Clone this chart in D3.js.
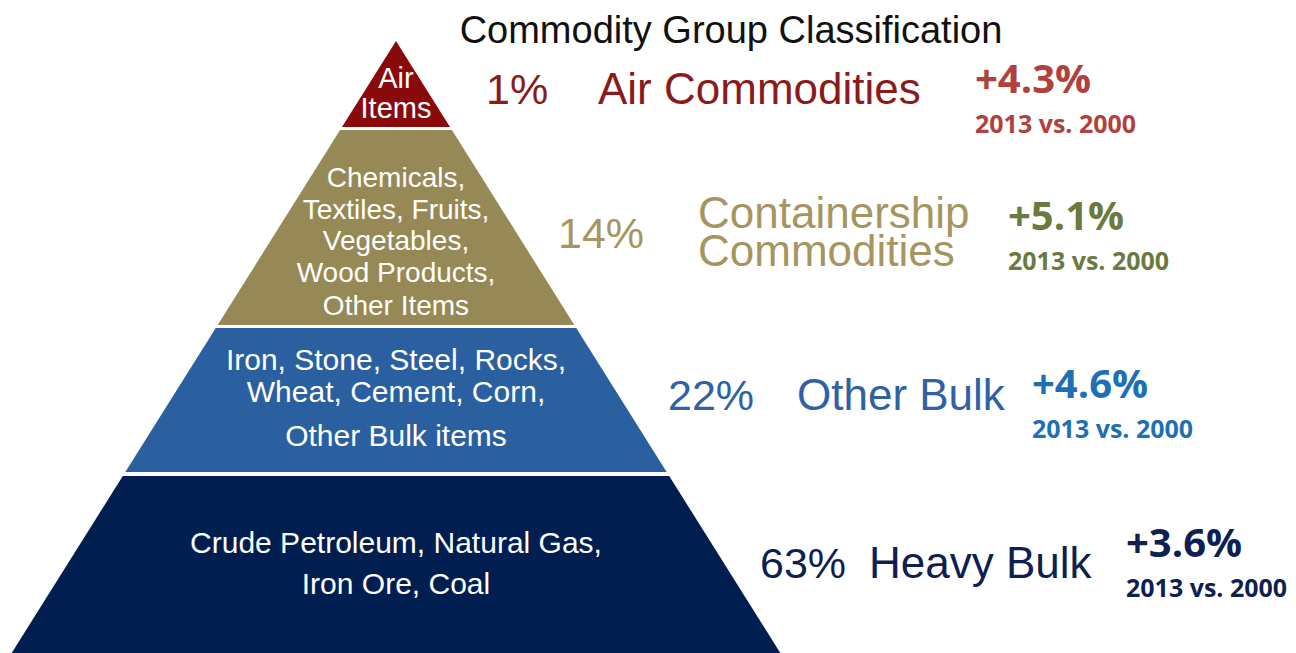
<!DOCTYPE html>
<html><head><meta charset="utf-8">
<script src="https://cdn.jsdelivr.net/npm/d3@7/dist/d3.min.js"></script>
<style>html,body{margin:0;padding:0;background:#fff;overflow:hidden}</style>
</head><body><svg id="c" width="1296" height="653"></svg>
<script>
// ---- data ----
const title = "Commodity Group Classification";
const groups = ["Air Commodities", "Containership Commodities", "Other Bulk", "Heavy Bulk"];
const groupLines = [["Air Commodities"], ["Containership", "Commodities"], ["Other Bulk"], ["Heavy Bulk"]];
const shares = [1, 14, 22, 63];
const growth = [4.3, 5.1, 4.6, 3.6];
const compareLabel = "2013 vs. 2000";
const items = [
  ["Air", "Items"],
  ["Chemicals,", "Textiles, Fruits,", "Vegetables,", "Wood Products,", "Other Items"],
  ["Iron, Stone, Steel, Rocks,", "Wheat, Cement, Corn,", "Other Bulk items"],
  ["Crude Petroleum, Natural Gas,", "Iron Ore, Coal"]
];

// ---- style / layout ----
const fills = ["#8a0a0c", "#978955", "#2b60a0", "#011e51"];
const labelColors = ["#8b1a1a", "#a6955f", "#2e62a4", "#0f1f52"];
const growthColors = ["#b0413e", "#6b7a3e", "#1f6fb5", "#0f1f52"];
const svg = d3.select("#c");
const apex = {x: 396, y: 41};
const slope = 0.628;            // half-width per pixel of depth
const tierTop = [41, 130, 328, 476];
const tierBot = [127, 325, 472, 660];
const half = d => (d - apex.y) * slope;

const font = "'Liberation Sans', Arial, sans-serif";
const bold = "'Open Sans', sans-serif";

// pyramid tiers
svg.append("g").selectAll("path").data(groups).join("path")
  .attr("d", (d, i) => {
    const t = tierTop[i], b = tierBot[i];
    return d3.line()([[apex.x - half(t), t], [apex.x + half(t), t], [apex.x + half(b), b], [apex.x - half(b), b]]) + "Z";
  })
  .attr("fill", (d, i) => fills[i]);

// inner item texts
const innerBase = [[88, 118], [187, 219, 250, 282, 315], [370, 402, 446], [553, 594]];
const innerSize = [29, 28, 30, 30];
items.forEach((lines, i) => {
  const t = svg.append("text").attr("text-anchor", "middle").attr("fill", "#fff")
    .attr("font-family", font).attr("font-size", innerSize[i]);
  lines.forEach((ln, j) => t.append("tspan").attr("x", apex.x).attr("y", innerBase[i][j]).text(ln));
});

// title
svg.append("text").attr("x", 731).attr("y", 43).attr("text-anchor", "middle")
  .attr("font-family", font).attr("font-size", 38).attr("fill", "#111").text(title);

// share + group labels
const shareX = [486, 558, 668, 760];
const shareY = [104, 248, 410, 578];
const nameX = [598, 698, 797, 869];
const nameY = [[104], [228, 266], [410], [578]];
groups.forEach((g, i) => {
  svg.append("text").attr("x", shareX[i]).attr("y", shareY[i]).attr("font-family", font)
    .attr("font-size", 43).attr("fill", labelColors[i]).text(shares[i] + "%");
  const t = svg.append("text").attr("font-family", font).attr("font-size", 44).attr("fill", labelColors[i]);
  groupLines[i].forEach((ln, j) => t.append("tspan").attr("x", nameX[i]).attr("y", nameY[i][j]).text(ln));
});

// growth labels
const growX = [975, 1008, 1032, 1126];
const growY = [93, 230, 398, 557];
const fmt = d3.format("+.1f");
growth.forEach((v, i) => {
  svg.append("text").attr("x", growX[i]).attr("y", growY[i]).attr("font-family", bold)
    .attr("font-weight", 700).attr("font-size", 40).attr("fill", growthColors[i]).text(fmt(v) + "%");
  svg.append("text").attr("x", growX[i]).attr("y", growY[i] + 40).attr("font-family", bold)
    .attr("font-weight", 700).attr("font-size", 25).attr("fill", growthColors[i]).text(compareLabel);
});
</script></body></html>
